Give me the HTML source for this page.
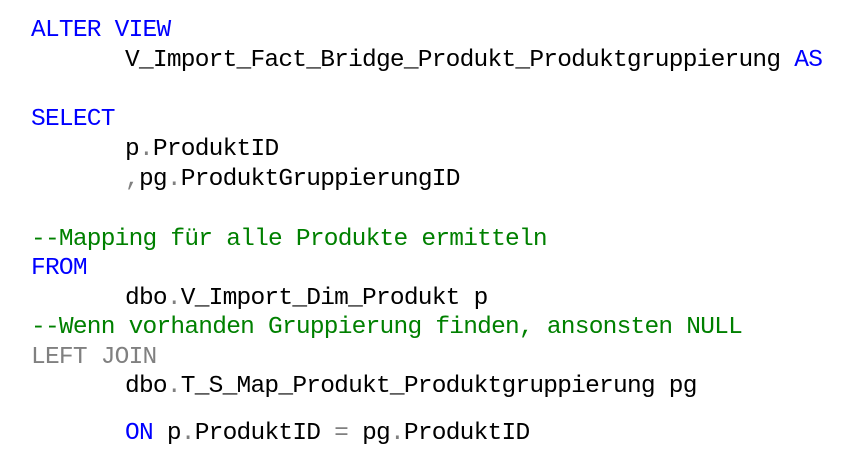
<!DOCTYPE html>
<html><head><meta charset="utf-8"><style>
html,body{margin:0;padding:0;background:#fff;width:849px;height:465px;overflow:hidden}
.l{position:absolute;font-family:"Liberation Mono",monospace;font-size:24.5px;letter-spacing:-0.76px;line-height:30px;white-space:pre;color:#000}
.b{color:#0000ff}.g{color:#008000}.k{color:#808080}
</style></head><body>
<div class="l b" style="left:31px;top:16px">ALTER VIEW</div>
<div class="l" style="left:125px;top:46px">V_Import_Fact_Bridge_Produkt_Produktgruppierung <span class="b">AS</span></div>
<div class="l b" style="left:31px;top:105px">SELECT</div>
<div class="l" style="left:125px;top:135px">p<span class="k">.</span>ProduktID</div>
<div class="l" style="left:125px;top:165px"><span class="k">,</span>pg<span class="k">.</span>ProduktGruppierungID</div>
<div class="l g" style="left:31px;top:225px">--Mapping für alle Produkte ermitteln</div>
<div class="l b" style="left:31px;top:254px">FROM</div>
<div class="l" style="left:125px;top:284px">dbo<span class="k">.</span>V_Import_Dim_Produkt p</div>
<div class="l g" style="left:31px;top:313px">--Wenn vorhanden Gruppierung finden, ansonsten NULL</div>
<div class="l k" style="left:31px;top:343px">LEFT JOIN</div>
<div class="l" style="left:125px;top:372px">dbo<span class="k">.</span>T_S_Map_Produkt_Produktgruppierung pg</div>
<div class="l" style="left:125px;top:419px"><span class="b">ON</span> p<span class="k">.</span>ProduktID <span class="k">=</span> pg<span class="k">.</span>ProduktID</div>
</body></html>
